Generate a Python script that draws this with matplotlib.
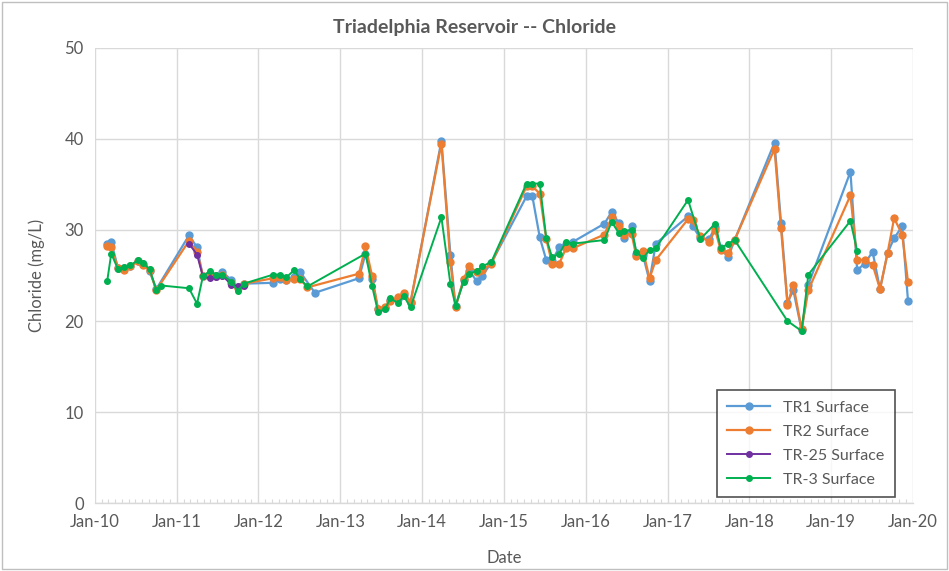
import matplotlib as mpl
import matplotlib.pyplot as plt
import matplotlib.dates as mdates
import numpy as np
import pandas as pd
from matplotlib.patches import Rectangle

# ========= Data =========
SAMPLE_DATES = [
    "2010-02-25", "2010-03-15", "2010-04-14", "2010-05-11", "2010-06-08", "2010-07-12",
    "2010-08-03", "2010-09-02", "2010-10-02", "2010-10-25",
    "2011-02-25", "2011-04-02", "2011-04-28", "2011-05-28", "2011-06-27", "2011-07-24",
    "2011-09-02", "2011-10-01", "2011-10-27",
    "2012-03-07", "2012-04-05", "2012-05-05", "2012-06-09", "2012-07-05", "2012-08-07",
    "2012-09-09",
    "2013-03-25", "2013-04-23", "2013-05-22", "2013-06-18", "2013-07-19", "2013-08-12",
    "2013-09-13", "2013-10-12", "2013-11-10",
    "2014-03-28", "2014-05-07", "2014-05-30", "2014-07-05", "2014-07-31", "2014-09-01",
    "2014-09-27", "2014-11-06",
    "2015-04-12", "2015-05-08", "2015-06-10", "2015-07-09", "2015-08-04", "2015-09-05",
    "2015-10-05", "2015-11-05",
    "2016-03-25", "2016-04-26", "2016-05-27", "2016-06-21", "2016-07-24", "2016-08-14",
    "2016-09-13", "2016-10-12", "2016-11-09",
    "2017-04-02", "2017-04-23", "2017-05-27", "2017-07-05", "2017-08-01", "2017-08-26",
    "2017-09-28", "2017-10-27",
    "2018-04-23", "2018-05-22", "2018-06-20", "2018-07-16", "2018-08-22", "2018-09-21",
    "2019-03-28", "2019-04-27", "2019-05-30", "2019-07-05", "2019-08-07", "2019-09-10",
    "2019-10-09", "2019-11-14", "2019-12-10",
]

NA = None
TR1 = [
    28.5, 28.7, 25.8, 25.8, 26.0, 26.6, 26.3, 25.5, 23.5, NA,
    29.4, 28.1, 24.9, 25.1, 25.0, 25.4, 24.5, 23.7, 24.1,
    24.2, 24.6, 24.5, 24.8, 25.4, NA, 23.1,
    24.7, 27.4, 24.6, 21.3, 21.4, 22.3, 22.4, 22.9, 22.0,
    39.8, 27.3, 21.6, 24.5, 25.5, 24.4, 25.0, 26.4,
    33.7, 33.7, 29.2, 26.7, 26.6, 28.1, 28.5, 28.7,
    30.7, 32.0, 30.8, 29.1, 30.4, 27.4, 27.2, 24.4, 28.5,
    31.5, 30.4, 29.1, 29.0, 30.3, 28.0, 27.0, 28.9,
    39.6, 30.8, 22.0, 23.4, 19.0, 24.0,
    36.4, 25.6, 26.3, 27.6, 23.5, 27.5, 29.1, 30.4, 22.2,
]
TR2 = [
    28.2, 28.1, 25.8, 25.6, 26.0, 26.6, 26.2, 25.6, 23.4, NA,
    28.8, 27.6, 25.0, 25.2, 25.0, 25.1, 24.2, 23.6, 24.1,
    24.7, 24.8, 24.5, 24.6, 24.6, 23.7, NA,
    25.2, 28.2, 25.0, 21.3, 21.5, 22.2, 22.6, 23.1, 22.1,
    39.5, 26.5, 21.5, 24.6, 26.0, 25.4, 25.6, 26.3,
    34.8, 34.8, 34.0, 29.0, 26.3, 26.3, 28.0, 28.0,
    29.5, 31.4, 30.4, 29.5, 29.6, 27.1, 27.7, 24.7, 26.7,
    31.2, 31.1, 29.3, 28.7, 30.0, 27.8, 27.5, 28.9,
    38.9, 30.2, 21.8, 24.0, 19.1, 23.4,
    33.8, 26.7, 26.7, 26.2, 23.5, 27.5, 31.3, 29.5, 24.3,
]
TR3 = [
    24.4, 27.4, 25.7, 25.9, 26.1, 26.7, 26.4, 25.7, 23.4, 23.9,
    23.6, 21.9, 24.9, 25.5, 25.1, 25.1, 24.3, 23.3, 24.1,
    25.1, 25.1, 24.8, 25.6, 24.6, 23.8, NA,
    NA, 27.4, 23.9, 21.0, 21.3, 22.5, 22.0, 22.7, 21.5,
    31.4, 24.1, 21.7, 24.3, 25.2, 25.5, 26.0, 26.5,
    35.1, 35.1, 35.1, 29.1, 27.0, 27.4, 28.7, 28.5,
    28.9, 30.9, 29.7, 29.9, 30.0, 27.6, 26.9, 27.8, 28.0,
    33.3, NA, 29.0, NA, 30.7, 28.0, 28.5, 28.9,
    NA, NA, 20.0, NA, 18.9, 25.1,
    31.0, 27.7, NA, NA, NA, NA, NA, NA, NA,
]
TR25_DATES = [
    "2011-02-25", "2011-04-02", "2011-04-28", "2011-05-28", "2011-06-27",
    "2011-07-24", "2011-09-02", "2011-10-01", "2011-10-27",
]
TR25 = [28.5, 27.3, 24.9, 24.7, 24.8, 25.0, 24.0, 23.8, 23.9]

SERIES = [
    ("TR1 Surface", SAMPLE_DATES, TR1, "#5B9BD5", 5.0, 1.6),
    ("TR2 Surface", SAMPLE_DATES, TR2, "#ED7D31", 5.0, 1.6),
    ("TR-25 Surface", TR25_DATES, TR25, "#7030A0", 4.0, 1.4),
    ("TR-3 Surface", SAMPLE_DATES, TR3, "#00B050", 4.0, 1.4),
]

TEXT_COLOR = "#595959"
GRID_COLOR = "#D9D9D9"

mpl.rcParams["font.family"] = ["Lato", "DejaVu Sans"]

fig = plt.figure(figsize=(9.49, 5.71), dpi=100)
ax = fig.add_axes([0.100, 0.119, 0.862, 0.797])

for name, dates, vals, color, ms, lw in SERIES:
    s = pd.Series(vals, index=pd.to_datetime(dates), dtype=float).dropna()
    ax.plot(s.index, s.values, color=color, marker="o", markersize=ms,
            linewidth=lw, label=name)

ax.set_xlim(pd.Timestamp("2010-01-01"), pd.Timestamp("2020-01-01"))
ax.set_ylim(0, 50)
ax.set_yticks(np.arange(0, 51, 10))
ax.xaxis.set_major_locator(mdates.YearLocator())
ax.xaxis.set_major_formatter(mdates.DateFormatter("%b-%y"))
ax.xaxis.set_minor_locator(mdates.MonthLocator())

ax.grid(True, which="major", color=GRID_COLOR, linewidth=1.0)
ax.set_axisbelow(True)
for side in ["top", "right", "left"]:
    ax.spines[side].set_visible(False)
ax.spines["bottom"].set_color(GRID_COLOR)
ax.spines["bottom"].set_linewidth(1.0)

ax.tick_params(axis="both", which="major", length=0, labelsize=12,
               labelcolor=TEXT_COLOR, pad=8)
ax.tick_params(axis="x", which="minor", direction="in", length=3,
               color=GRID_COLOR, width=0.8)
ax.tick_params(axis="y", which="minor", length=0)

ax.set_xlabel("Date", fontsize=12, color=TEXT_COLOR, labelpad=14)
ax.set_ylabel("Chloride (mg/L)", fontsize=12, color=TEXT_COLOR, labelpad=14)
fig.text(0.5, 0.952, "Triadelphia Reservoir -- Chloride", ha="center", va="center",
         fontsize=14, fontweight="bold", color=TEXT_COLOR)

leg = ax.legend(loc="upper left", bbox_to_anchor=(0.760, 0.248), fontsize=11.5,
                frameon=True, fancybox=False, edgecolor="#262626",
                handlelength=2.7, labelspacing=0.62, borderpad=0.65,
                borderaxespad=0.0, labelcolor=TEXT_COLOR)
leg.get_frame().set_linewidth(1.2)

# light chart-area border like the source
fig.patches.append(Rectangle((0.002, 0.003), 0.996, 0.994, transform=fig.transFigure,
                             fill=False, edgecolor="#BFBFBF", linewidth=1.0))

fig.savefig("out.png", dpi=100)
